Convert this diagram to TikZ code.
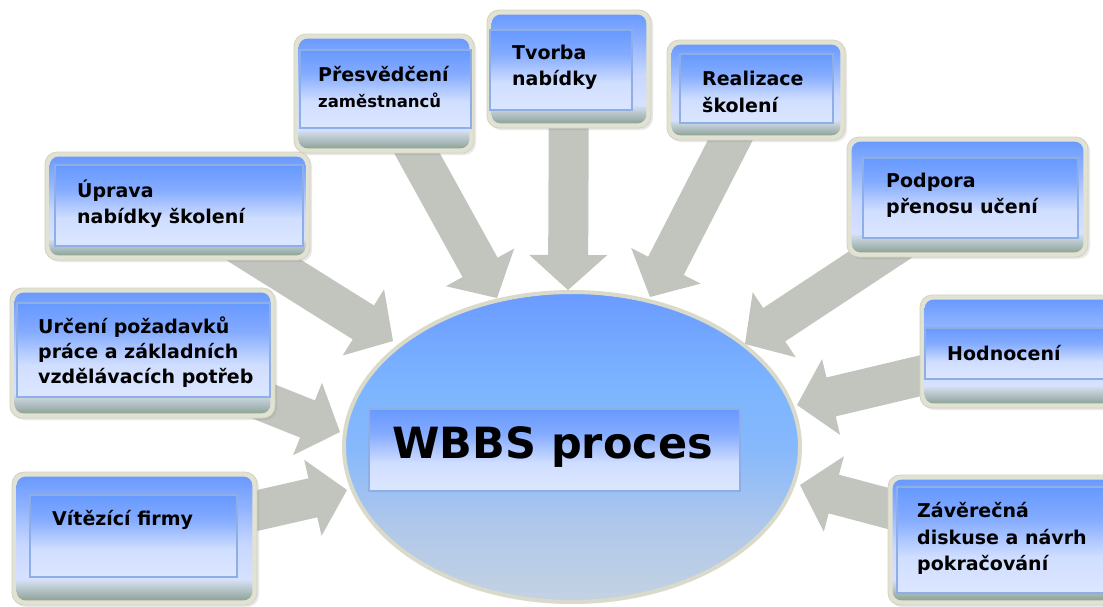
\documentclass[tikz,border=0pt]{standalone}
\usepackage{fontspec}
\setmainfont{DejaVu Sans}
\usetikzlibrary{shapes.geometric,calc,shadows}
\definecolor{framefill}{HTML}{E2E2D3}
\definecolor{frameedge}{HTML}{D2D2C2}
\definecolor{arrowgrey}{HTML}{C1C5BE}
\definecolor{insetedge}{HTML}{8EAEE6}
\definecolor{pA}{HTML}{8DA394}
\definecolor{pB}{HTML}{A9B9B9}
\definecolor{pC}{HTML}{CFDAE8}
\definecolor{pD}{HTML}{D7E1FF}
\definecolor{pE}{HTML}{C8D7FF}
\definecolor{pF}{HTML}{92B4FF}
\definecolor{pG}{HTML}{6A9AFF}
\definecolor{iA}{HTML}{DCE6FF}
\definecolor{iB}{HTML}{D0DEFF}
\definecolor{iC}{HTML}{84ABFF}
\definecolor{iD}{HTML}{6699FF}
\definecolor{eA}{HTML}{C4D2E2}
\definecolor{eB}{HTML}{B0C8EA}
\definecolor{eC}{HTML}{86B8FC}
\definecolor{eD}{HTML}{7CB5FF}
\definecolor{eE}{HTML}{6A9AFF}
\definecolor{elledge}{HTML}{DADACB}
\pgfdeclareverticalshading{panelsh}{100bp}{color(0bp)=(pA); color(25bp)=(pA); color(28bp)=(pB); color(32.5bp)=(pC); color(33.5bp)=(pD); color(47.5bp)=(pE); color(62bp)=(pF); color(75bp)=(pG); color(100bp)=(pG)}
\pgfdeclareverticalshading{insetsh}{100bp}{color(0bp)=(iA); color(25bp)=(iA); color(42bp)=(iB); color(60bp)=(iC); color(75bp)=(iD); color(100bp)=(iD)}
\pgfdeclareverticalshading{ellsh}{100bp}{color(0bp)=(eA); color(25bp)=(eA); color(37bp)=(eB); color(50bp)=(eC); color(60bp)=(eD); color(75bp)=(eE); color(100bp)=(eE)}
\pgfdeclarelayer{back}
\pgfdeclarelayer{bg}
\pgfsetlayers{back,bg,main}
\tikzset{
  frame/.style={draw=frameedge, fill=framefill, line width=0.8pt, rounded corners=12pt, inner sep=0pt,
    drop shadow={opacity=0.18, shadow xshift=2pt, shadow yshift=-2pt}},
  panel/.style={rounded corners=9pt, shading=panelsh},
  inset/.style={draw=insetedge, line width=1.2pt, shading=insetsh},
  lbl/.style={font=\bfseries\fontsize{19}{26.5}\selectfont, align=left, anchor=west, inner sep=0pt},
  arrowfill/.style={fill=arrowgrey},
}
\newcommand\wbox[5]{%
  \node[frame, minimum width=#4pt-#2pt, minimum height=#5pt-#3pt] (#1) at ({(#2+#4)/2},{(#3+#5)/2}) {};
  \path[panel] ($(#1.north west)+(5,5)$) rectangle ($(#1.south east)+(-5,-5)$);
}
\newcommand\blockarrow[2]{%
  \coordinate (hb) at ($(#2)!35pt!(#1)$);
  \fill[arrowfill] ($(#1)!20pt!90:(#2)$) -- ($(hb)!20pt!90:(#2)$) -- ($(hb)!39pt!90:(#2)$) -- (#2)
    -- ($(hb)!39pt!-90:(#2)$) -- ($(hb)!20pt!-90:(#2)$) -- ($(#1)!20pt!-90:(#2)$) -- cycle;
}
\begin{document}
\begin{tikzpicture}[x=1pt,y=-1pt]
\useasboundingbox (0,0) rectangle (1103,606);
\begin{pgfonlayer}{back}
\fill[white] (0,0) rectangle (1103,606);
\end{pgfonlayer}
\clip (0,0) rectangle (1103,606);

% central ellipse
\node[ellipse, draw=elledge, line width=4pt, shading=ellsh, minimum width=456pt, minimum height=310pt, inner sep=0pt] (E) at (572,447) {};
\path[inset] (369,409) rectangle (740,491);
\node[lbl, font=\bfseries\fontsize{43}{50}\selectfont] (wbbs) at (392,447) {WBBS proces};

% boxes
\wbox{pres}{294}{34}{474}{153}
\path[inset] (300,50) rectangle (471,128);
\node[lbl] (presT) at (318,87) {{\fontsize{19}{25}\selectfont Přesvědčení}\\{\fontsize{16.5}{25}\selectfont zaměstnanců}};

\wbox{tvor}{487}{10}{651}{128}
\path[inset] (490,30) rectangle (632,110);
\node[lbl] (tvorT) at (512,67.5) {Tvorba\\nabídky};

\wbox{real}{667}{40}{845}{140}
\path[inset] (680,54) rectangle (833,123);
\node[lbl] (realT) at (702,92) {Realizace\\školení};

\wbox{upr}{45}{152}{310}{260}
\path[inset] (55,165) rectangle (303,246);
\node[lbl] (uprT) at (77,203.5) {Úprava\\nabídky školení};

\wbox{podp}{847}{137}{1088}{257}
\path[inset] (863,158) rectangle (1078,238);
\node[lbl] (podpT) at (886,195.5) {Podpora\\přenosu učení};

\wbox{urc}{10}{288}{275}{418}
\path[inset] (17,303) rectangle (270,397);
\begin{scope}
\clip (17,303) rectangle (270,386);
\node[lbl, font=\bfseries\fontsize{19}{25}\selectfont] (urcT) at (38,352) {Určení požadavků\\práce a základních\\vzdělávacích potřeb};
\end{scope}

\wbox{hodn}{920}{295}{1125}{408}
\path[inset] (925,328) rectangle (1110,379);
\node[lbl] (hodnT) at (947,353) {Hodnocení};

\wbox{vit}{12}{472}{257}{605}
\path[inset] (30,495) rectangle (237,577);
\node[lbl] (vitT) at (52,520) {Vítězící firmy};

\wbox{zav}{888}{475}{1125}{605}
\path[inset] (897,487) rectangle (1110,593);
\node[lbl] (zavT) at (917,538.5) {Závěrečná\\diskuse a návrh\\pokračování};

% arrow tips
\coordinate (tU) at (393,341);
\coordinate (tP) at (497,298);
\coordinate (tT) at (568,290);
\coordinate (tR) at (650,297);
\coordinate (tPo) at (745,344);
\coordinate (tUr) at (340,432);
\coordinate (tH) at (797,405);
\coordinate (tV) at (347,490);
\coordinate (tZ) at (800,485);

\begin{pgfonlayer}{bg}
\blockarrow{upr}{tU}
\blockarrow{pres}{tP}
\blockarrow{tvor}{tT}
\blockarrow{real}{tR}
\blockarrow{podp}{tPo}
\blockarrow{urc}{tUr}
\blockarrow{hodn}{tH}
\blockarrow{vit}{tV}
\blockarrow{zav}{tZ}
\end{pgfonlayer}
\end{tikzpicture}
\end{document}
